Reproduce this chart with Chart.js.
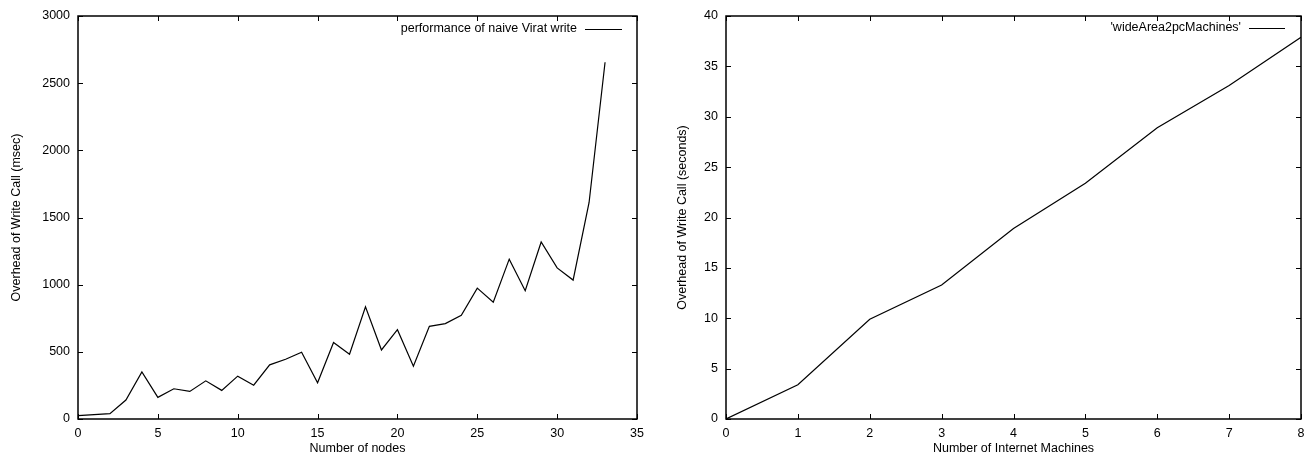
<!DOCTYPE html>
<html>
<head>
<meta charset="utf-8">
<script src="https://cdn.jsdelivr.net/npm/chart.js@4/dist/chart.umd.min.js"></script>
<style>
  html, body { margin: 0; padding: 0; background: #fff; }
  #wrap { position: relative; width: 1313px; height: 456px; }
  .box { position: absolute; top: 0; height: 456px; }
</style>
</head>
<body>
<div id="wrap">
  <div class="box" style="left:0;width:656px"><canvas id="js-nodes"></canvas></div>
  <div class="box" style="left:656px;width:657px"><canvas id="js-machines"></canvas></div>
</div>
<script>
// left plot: naive Virat write
var nodes = [0, 2, 3, 4, 5, 6, 7, 8, 9, 10, 11, 12, 13, 14, 15, 16, 17, 18, 19, 20, 21, 22, 23, 24, 25, 26, 27, 28, 29, 30, 31, 32, 33];
var writeMsec = [25, 40, 141, 351, 161, 225, 205, 284, 213, 319, 252, 403, 445, 497, 270, 569, 482, 836, 514, 665, 393, 690, 710, 772, 974, 870, 1190, 955, 1318, 1125, 1034, 1612, 2656];
var nodeTicks = [0, 5, 10, 15, 20, 25, 30, 35];
var msecTicks = [0, 500, 1000, 1500, 2000, 2500, 3000];

// right plot: wide area machines
var machines = [0, 1, 2, 3, 4, 5, 6, 7, 8];
var writeSec = [0, 3.4, 9.9, 13.3, 18.9, 23.4, 28.9, 33.1, 37.9];
var machineTicks = [0, 1, 2, 3, 4, 5, 6, 7, 8];
var secTicks = [0, 5, 10, 15, 20, 25, 30, 35, 40];

Chart.defaults.font.family = '"Liberation Sans", Arial, sans-serif';
Chart.defaults.color = '#000';
Chart.defaults.animation = false;

// gnuplot style frame, inward ticks on all four sides, key in top right
var gnuFrame = {
  id: 'gnuFrame',
  afterDraw: function(chart, args, opts) {
    var ctx = chart.ctx, a = chart.chartArea;
    var x = chart.scales.x, y = chart.scales.y;
    var len = 5;
    ctx.save();
    ctx.strokeStyle = '#000';
    ctx.lineWidth = 1;
    ctx.beginPath();
    x.ticks.forEach(function(t) {
      var px = Math.round(x.getPixelForValue(t.value)) + 0.5;
      ctx.moveTo(px, a.bottom); ctx.lineTo(px, a.bottom - len);
      ctx.moveTo(px, a.top); ctx.lineTo(px, a.top + len);
    });
    y.ticks.forEach(function(t) {
      var py = Math.round(y.getPixelForValue(t.value)) + 0.5;
      ctx.moveTo(a.left, py); ctx.lineTo(a.left + len, py);
      ctx.moveTo(a.right, py); ctx.lineTo(a.right - len, py);
    });
    ctx.stroke();
    ctx.lineWidth = 1.5;
    ctx.strokeRect(a.left, a.top, a.right - a.left, a.bottom - a.top);

    // key
    var label = chart.data.datasets[0].label;
    ctx.font = '12.5px "Liberation Sans", Arial, sans-serif';
    ctx.fillStyle = '#000';
    ctx.textAlign = 'right';
    ctx.textBaseline = 'middle';
    var lx = a.right - opts.keyRight;
    ctx.fillText(label, lx - opts.keyLine - 8, a.top + opts.keyTop);
    ctx.lineWidth = 1;
    ctx.beginPath();
    ctx.moveTo(lx - opts.keyLine, a.top + opts.keyTop + 0.5);
    ctx.lineTo(lx, a.top + opts.keyTop + 0.5);
    ctx.stroke();
    ctx.restore();
  }
};

function makeChart(id, xs, ys, label, xTicks, yTicks, xTitle, yTitle, lay) {
  var points = xs.map(function(v, i) { return { x: v, y: ys[i] }; });
  return new Chart(document.getElementById(id), {
    type: 'line',
    data: {
      datasets: [{
        label: label,
        data: points,
        borderColor: '#000',
        borderWidth: 1.2,
        pointRadius: 0,
        tension: 0,
        fill: false
      }]
    },
    options: {
      responsive: true,
      maintainAspectRatio: false,
      layout: { padding: { left: 0, top: 16, right: lay.right, bottom: 0 } },
      plugins: {
        legend: { display: false },
        tooltip: { enabled: false },
        gnuFrame: { keyRight: lay.keyRight, keyLine: lay.keyLine, keyTop: lay.keyTop }
      },
      scales: {
        x: {
          type: 'linear',
          min: xTicks[0],
          max: xTicks[xTicks.length - 1],
          afterBuildTicks: function(s) { s.ticks = xTicks.map(function(v) { return { value: v }; }); },
          afterFit: function(s) { s.height = 37; },
          grid: { display: false, drawTicks: false },
          border: { display: false },
          ticks: { padding: 7, font: { size: 12.5 }, maxRotation: 0, callback: function(v) { return String(v); } },
          title: { display: true, text: xTitle, font: { size: 12.5 }, padding: { top: 0, bottom: 0 } }
        },
        y: {
          type: 'linear',
          min: yTicks[0],
          max: yTicks[yTicks.length - 1],
          afterBuildTicks: function(s) { s.ticks = yTicks.map(function(v) { return { value: v }; }); },
          afterFit: function(s) { s.width = lay.left; },
          grid: { display: false, drawTicks: false },
          border: { display: false },
          ticks: { padding: 8, font: { size: 12.5 }, callback: function(v) { return String(v); } },
          title: { display: true, text: yTitle, font: { size: 12.5 }, padding: { top: lay.titlePad, bottom: 0 } }
        }
      }
    },
    plugins: [gnuFrame]
  });
}

makeChart('js-nodes', nodes, writeMsec, 'performance of naive Virat write',
  nodeTicks, msecTicks, 'Number of nodes', 'Overhead of Write Call (msec)',
  { left: 78, right: 19, keyRight: 15, keyLine: 37, keyTop: 13, titlePad: 9 });

makeChart('js-machines', machines, writeSec, "'wideArea2pcMachines'",
  machineTicks, secTicks, 'Number of Internet Machines', 'Overhead of Write Call (seconds)',
  { left: 70, right: 12, keyRight: 16, keyLine: 36, keyTop: 12, titlePad: 19 });
</script>
</body>
</html>
